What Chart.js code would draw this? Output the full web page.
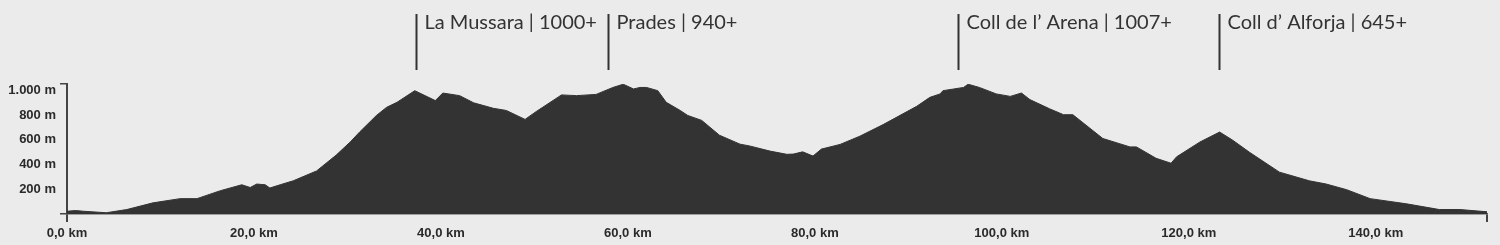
<!DOCTYPE html>
<html>
<head>
<meta charset="utf-8">
<script src="https://cdn.jsdelivr.net/npm/chart.js@4.4.1/dist/chart.umd.min.js"></script>
<style>
  html, body { margin: 0; padding: 0; background: #ebebeb; }
  #wrap { width: 1500px; height: 245px; position: relative; }
</style>
</head>
<body>
<div id="wrap"><canvas id="profile"></canvas></div>
<script>
// distance along the route (km) and altitude (m)
var km = [0, 0.9, 1.8, 4.2, 6.4, 9.2, 12.1, 13.9, 16.4, 18.7, 19.6, 20.3, 21.2, 21.7, 22.8, 24.2, 26.7, 28.8,
  30.3, 31.3, 33.1, 34.2, 35.3, 37.2, 39.4, 40.2, 42.0, 43.5, 45.6, 47.0, 49.0, 50.2, 52.9, 54.5, 56.6, 58.4, 59.5,
  60.6, 61.3, 62.0, 63.2, 64.1, 65.6, 66.4, 67.9, 69.8, 72.0, 73.0, 75.2, 77.0, 77.7, 78.7, 79.8, 80.7,
  82.7, 84.8, 87.3, 90.9, 92.3, 93.4, 93.7, 95.9, 96.4, 97.6, 99.4, 100.9, 102.1, 103.0, 105.1, 106.6,
  107.6, 110.8, 113.7, 114.4, 116.5, 118.1, 118.7, 121.2, 123.3, 124.7, 126.5, 129.7, 132.9, 134.7,
  136.9, 139.4, 143.3, 146.8, 149.0, 151.9];
var altitude = [22, 28, 22, 10, 36, 90, 124, 124, 188, 236, 214, 242, 236, 210, 236, 268, 348, 476,
  582, 662, 796, 862, 902, 996, 916, 977, 956, 898, 854, 836, 764, 828, 962, 956, 966, 1022, 1048,
  1010, 1022, 1022, 996, 902, 836, 796, 756, 636, 564, 550, 508, 482, 484, 502, 468, 524,
  562, 628, 722, 870, 942, 970, 996, 1022, 1048, 1022, 970, 950, 977, 924, 850, 802,
  802, 610, 542, 542, 450, 410, 462, 582, 662, 596, 498, 338, 268, 242,
  196, 124, 82, 36, 36, 18];

// y axis ticks (m) and x axis step (km)
var altTicks = [0, 200, 400, 600, 800, 1000, 1050];
var kmStep = 20;

// named passes
var passNames = ['La Mussara', 'Prades', 'Coll de l\u2019 Arena', 'Coll d\u2019 Alforja'];
var passKm = [37.3, 57.9, 95.3, 123.2];
var passHeight = [1000, 940, 1007, 645];

var points = km.map(function (k, i) { return { x: k, y: altitude[i] }; });
var maxKm = km[km.length - 1];
var maxAlt = altTicks[altTicks.length - 1];

function altAt(k) {
  for (var i = 1; i < km.length; i++) {
    if (k <= km[i]) {
      var t = (k - km[i - 1]) / (km[i] - km[i - 1]);
      return altitude[i - 1] + t * (altitude[i] - altitude[i - 1]);
    }
  }
  return altitude[altitude.length - 1];
}

function fmtThousands(v) {
  return String(v).replace(/\B(?=(\d{3})+(?!\d))/g, '.');
}

var passPlugin = {
  id: 'passes',
  afterDraw: function (chart) {
    var ctx = chart.ctx;
    var xs = chart.scales.x, ys = chart.scales.y;
    ctx.save();
    ctx.strokeStyle = '#333';
    ctx.lineWidth = 2;
    ctx.fillStyle = '#333';
    ctx.font = '20px Lato';
    ctx.textBaseline = 'alphabetic';
    passNames.forEach(function (name, i) {
      var px = Math.round(xs.getPixelForValue(passKm[i])) + 0.5;
      var bottom = Math.min(70, ys.getPixelForValue(altAt(passKm[i])) - 12);
      ctx.beginPath();
      ctx.moveTo(px, 14);
      ctx.lineTo(px, bottom);
      ctx.stroke();
      ctx.fillText(name + ' | ' + passHeight[i] + '+', px + 8, 29);
    });
    ctx.restore();
  }
};

new Chart(document.getElementById('profile'), {
  type: 'line',
  data: {
    datasets: [{
      data: points,
      fill: 'origin',
      backgroundColor: '#333333',
      borderColor: '#333333',
      borderWidth: 1,
      pointRadius: 0,
      tension: 0
    }]
  },
  options: {
    responsive: true,
    maintainAspectRatio: false,
    animation: false,
    layout: { padding: { top: 84, right: 13, left: 0, bottom: 0 } },
    plugins: { legend: { display: false }, tooltip: { enabled: false } },
    scales: {
      x: {
        type: 'linear',
        min: 0,
        max: maxKm,
        afterFit: function (s) { s.height = 31; },
        border: { color: '#555', width: 1.5 },
        grid: {
          drawOnChartArea: false,
          tickLength: 8,
          lineWidth: 2,
          color: function (c) {
            var v = c.tick ? c.tick.value : null;
            return (v === 0 || v === maxKm) ? '#444' : 'rgba(0,0,0,0)';
          }
        },
        ticks: {
          stepSize: kmStep,
          autoSkip: false,
          maxRotation: 0,
          padding: 4,
          color: '#2a2a2a',
          font: { family: 'Liberation Sans', size: 13, weight: 'bold' },
          callback: function (v) {
            return v % kmStep === 0 ? v.toFixed(1).replace('.', ',') + ' km' : '';
          }
        }
      },
      y: {
        min: 0,
        max: maxAlt,
        afterFit: function (s) { s.width = 67; },
        afterBuildTicks: function (s) {
          s.ticks = altTicks.map(function (v) { return { value: v }; });
        },
        border: { color: '#444', width: 2 },
        grid: {
          drawOnChartArea: false,
          tickLength: 7,
          lineWidth: 1.5,
          color: function (c) {
            var v = c.tick ? c.tick.value : null;
            return (v === 0 || v === maxAlt) ? '#444' : 'rgba(0,0,0,0)';
          }
        },
        ticks: {
          autoSkip: false,
          padding: 4,
          color: '#2a2a2a',
          font: { family: 'Liberation Sans', size: 13, weight: 'bold' },
          callback: function (v) {
            return (v > 0 && v % 200 === 0) ? fmtThousands(v) + ' m' : '';
          }
        }
      }
    }
  },
  plugins: [passPlugin]
});
</script>
</body>
</html>
